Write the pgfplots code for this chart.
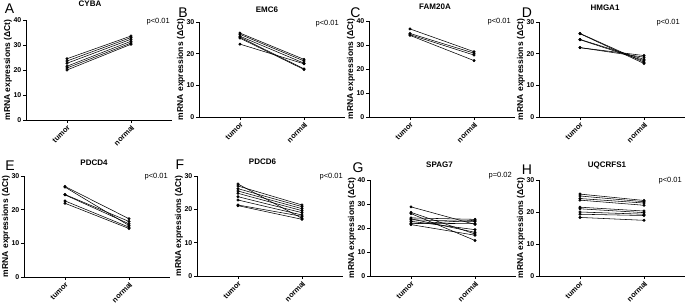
\documentclass[border=0pt]{standalone}
\usepackage{fontspec}
\setmainfont{Liberation Sans}
\usepackage{pgfplots}
\pgfplotsset{compat=1.18}
\newcommand{\pair}[2]{\addplot coordinates {(0,#1) (1,#2)};}
\tikzset{
  pval/.style={anchor=east, font=\fontsize{7.5}{8}\selectfont, inner sep=0pt},
  lett/.style={font=\fontsize{14}{14}\selectfont, inner sep=0pt, anchor=center},
  ttl/.style={font=\fontsize{8}{9}\selectfont\bfseries, inner sep=0pt, anchor=center},
}
\pgfplotsset{
  panel/.style={
    width=146pt, scale only axis, clip=false,
    xmin=-0.64, xmax=1.64, ymin=0,
    axis x line*=bottom, axis y line*=left,
    xtick={0,1}, xticklabels={tumor,normal},
    tick align=outside, major tick length=3pt,
    axis line style={line width=0.8pt, black},
    tick style={line width=0.8pt, black},
    x tick label style={rotate=45, anchor=north east, font=\fontsize{7.5}{8}\selectfont\bfseries, inner sep=1pt},
    y tick label style={font=\fontsize{7}{8}\selectfont\bfseries, inner sep=1.5pt},
    /pgf/number format/assume math mode=true,
    ylabel={mRNA expressions (ΔCt)},
    ylabel style={font=\fontsize{8.5}{9}\selectfont\bfseries, at={(axis description cs:-0.123,0.5)}, anchor=center},
    cycle list={{black, mark=*}},
    every axis plot/.append style={black, mark=*, mark size=1.2pt, line width=0.55pt},
    anchor=south west,
  },
}
\begin{document}
\begin{tikzpicture}[x=1pt,y=1pt]
\useasboundingbox (0,0) rectangle (685,304);
% ---- A CYBA
\begin{axis}[panel, at={(26pt,184pt)}, height=100pt, ymax=40, ytick={0,10,20,30,40}]
\pair{24.5}{33.6}
\pair{23.6}{33.0}
\pair{22.7}{32.3}
\pair{21.5}{31.5}
\pair{20.8}{30.8}
\pair{20.0}{30.3}
\node[pval] at (axis description cs:1,1) [xshift=-2pt, yshift=-1.5pt] {p<0.01};
\end{axis}
% ---- B EMC6
\begin{axis}[panel, at={(199pt,187pt)}, height=95pt, ymax=30, ytick={0,10,20,30}]
\pair{26.5}{18.2}
\pair{26.1}{17.7}
\pair{25.5}{17.0}
\pair{25.2}{15.2}
\pair{24.9}{15.0}
\pair{23.0}{16.8}
\node[pval] at (axis description cs:1,1) [xshift=-6pt, yshift=-2pt] {p<0.01};
\end{axis}
% ---- C FAM20A
\begin{axis}[panel, at={(369pt,187pt)}, height=96pt, ymax=40, ytick={0,10,20,30,40}]
\pair{36.7}{27.2}
\pair{34.8}{26.6}
\pair{34.3}{25.8}
\pair{34.0}{23.5}
\node[pval] at (axis description cs:1,1) [xshift=-4pt, yshift=-1pt] {p<0.01};
\end{axis}
% ---- D HMGA1
\begin{axis}[panel, at={(539pt,187pt)}, height=95pt, ymax=30, ytick={0,10,20,30}]
\pair{26.4}{17.3}
\pair{26.3}{16.9}
\pair{24.5}{18.2}
\pair{24.4}{17.8}
\pair{21.9}{19.4}
\pair{21.9}{18.9}
\node[pval] at (axis description cs:1,1) [xshift=-5pt, yshift=-1pt] {p<0.01};
\end{axis}
% ---- E PDCD4
\begin{axis}[panel, at={(24pt,27pt)}, height=101pt, ymax=30, ytick={0,10,20,30}]
\pair{26.9}{17.3}
\pair{26.7}{15.3}
\pair{24.5}{16.5}
\pair{24.4}{15.8}
\pair{22.6}{14.8}
\pair{21.9}{14.4}
\node[pval] at (axis description cs:1,1) [xshift=-2pt, yshift=-0.5pt] {p<0.01};
\end{axis}
% ---- F PDCD6
\begin{axis}[panel, at={(197pt,28pt)}, height=100pt, ymax=30, ytick={0,10,20,30}]
\pair{27.6}{17.3}
\pair{27.0}{21.3}
\pair{26.2}{20.8}
\pair{25.5}{20.2}
\pair{24.8}{19.6}
\pair{23.8}{19.0}
\pair{22.8}{18.3}
\pair{21.3}{17.9}
\pair{21.1}{17.0}
\node[pval] at (axis description cs:1,1) [xshift=0pt, yshift=-1pt] {p<0.01};
\end{axis}
% ---- G SPAG7
\begin{axis}[panel, at={(370pt,28pt)}, height=96pt, ymax=40, ytick={0,10,20,30,40}]
\pair{28.8}{21.5}
\pair{26.5}{17.5}
\pair{26.0}{14.8}
\pair{24.2}{23.6}
\pair{23.8}{18.2}
\pair{23.4}{22.7}
\pair{22.8}{19.3}
\pair{22.0}{21.8}
\pair{21.7}{23.2}
\pair{21.4}{17.0}
\node[pval] at (axis description cs:1,1) [xshift=-4pt, yshift=4pt] {p=0.02};
\end{axis}
% ---- H UQCRFS1
\begin{axis}[panel, at={(539pt,28pt)}, height=96pt, ymax=30, ytick={0,10,20,30}]
\pair{25.6}{23.6}
\pair{25.0}{23.2}
\pair{24.2}{22.8}
\pair{23.7}{22.1}
\pair{21.5}{20.3}
\pair{21.0}{19.8}
\pair{20.0}{19.3}
\pair{19.3}{18.9}
\pair{18.3}{17.4}
\node[pval] at (axis description cs:1,1) [xshift=-3pt, yshift=-1pt] {p<0.01};
\end{axis}
% titles
\node[ttl] at (90,300) {CYBA};
\node[ttl] at (267,294.5) {EMC6};
\node[ttl] at (435,297) {FAM20A};
\node[ttl] at (605,296) {HMGA1};
\node[ttl] at (94,141.5) {PDCD4};
\node[ttl] at (262.5,142) {PDCD6};
\node[ttl] at (439.5,139.5) {SPAG7};
\node[ttl] at (607,139) {UQCRFS1};
% letters
\node[lett] at (9.5,295) {A};
\node[lett] at (183,291) {B};
\node[lett] at (355.5,291.5) {C};
\node[lett] at (527,291) {D};
\node[lett] at (10,138.5) {E};
\node[lett] at (180,139) {F};
\node[lett] at (358,136) {G};
\node[lett] at (527,134.5) {H};
\end{tikzpicture}
\end{document}
